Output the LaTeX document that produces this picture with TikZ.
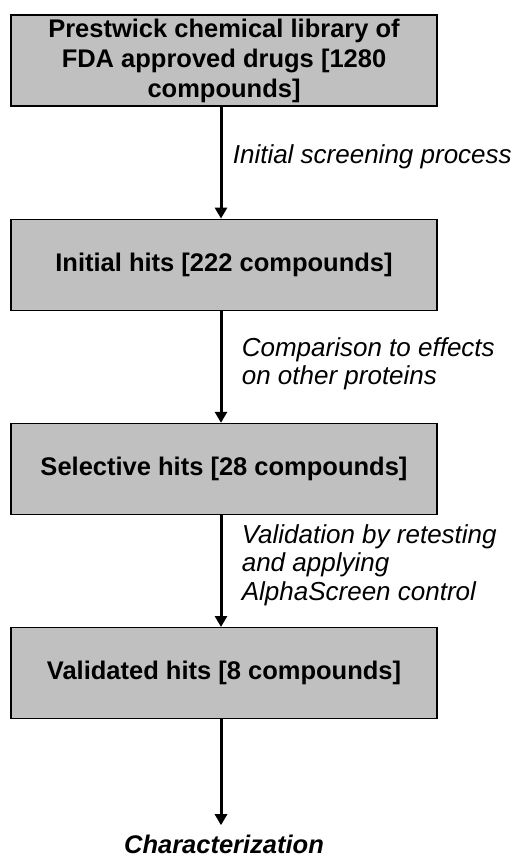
\documentclass[tikz,border=0pt]{standalone}
\usepackage{fontspec}
\setmainfont{Liberation Sans}
\usetikzlibrary{arrows.meta, positioning}
\definecolor{boxgray}{RGB}{192,192,192}

\begin{document}
\begin{tikzpicture}[x=1pt, y=1pt, node distance=112pt,
                    step node/.style= {rectangle,
                      draw,
                      fill=boxgray,
                      line width=1.2pt,
                      minimum width=426pt,
                      minimum height=91pt,
                      align=center,
                      font=\fontsize{25.5}{30}\selectfont\bfseries},
                    note/.style= {align=left,
                      font=\fontsize{26}{28.5}\selectfont\itshape},
                    flow/.style= {line width=3pt,
                      -{Triangle[length=11pt, width=12pt]}}]

  \useasboundingbox (0,0) rectangle (521,-857);

  \node[step node] (1) at (224,-60.5) {Prestwick chemical library of\\FDA approved drugs [1280\\compounds]};
  \node[step node] (2) [below=of 1] {Initial hits [222 compounds]};
  \node[step node] (3) [below=of 2] {Selective hits [28 compounds]};
  \node[step node] (4) [below=of 3] {Validated hits [8 compounds]};
  \node (5) [below=112pt of 4, font=\fontsize{25.5}{30}\selectfont\bfseries\itshape] {Characterization};

  \path[flow]
    ([xshift=-3pt]1.south) edge node [note, right=7pt, yshift=6pt] {Initial screening process} ([xshift=-3pt]2.north)
    ([xshift=-3pt]2.south) edge node [note, right=16pt, yshift=3pt] {Comparison to effects\\on other proteins} ([xshift=-3pt]3.north)
    ([xshift=-3pt]3.south) edge node [note, right=16pt, yshift=6pt] {Validation by retesting\\and applying\\AlphaScreen control} ([xshift=-3pt]4.north)
    ([xshift=-3pt]4.south) edge [shorten >=6pt] ([xshift=-3pt]5.north);
\end{tikzpicture}
\end{document}
